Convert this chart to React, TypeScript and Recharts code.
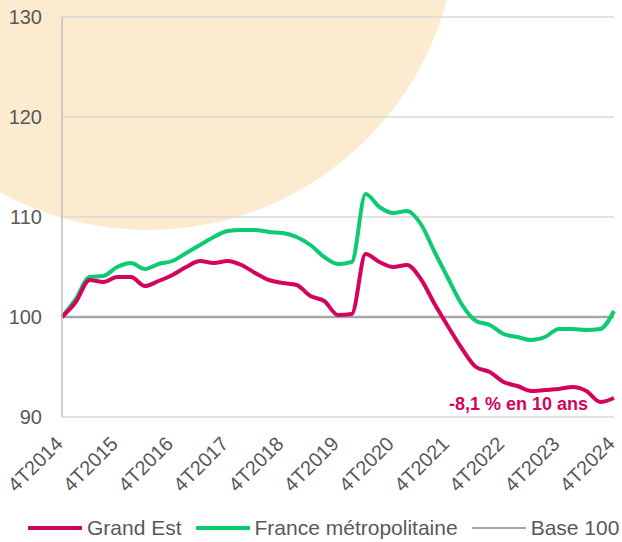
import { LineChart, Line, XAxis, YAxis, CartesianGrid, Legend, ReferenceDot } from 'recharts';

const COLORS = {
  grandEst: '#D2045E',
  france: '#0DCB70',
  base: '#A6A6A6',
  grid: '#D9D9D9',
  axis: '#BFBFBF',
  text: '#595959',
  circle: '#FDEBD0',
};

const FONT = '"Liberation Sans", Arial, sans-serif';

// trimestres 4T2014 -> 4T2024
const quarters: string[] = ['4T2014'];
for (let y = 2015; y <= 2024; y++) {
  for (let q = 1; q <= 4; q++) quarters.push(`${q}T${y}`);
}

const yearTicks = ['4T2014', '4T2015', '4T2016', '4T2017', '4T2018', '4T2019', '4T2020', '4T2021', '4T2022', '4T2023', '4T2024'];
const yTicks = [90, 100, 110, 120, 130];

const grandEst = [
  100.0, 101.5, 103.7, 103.5, 104.0, 104.0, 103.1, 103.6, 104.2, 105.0,
  105.6, 105.4, 105.6, 105.2, 104.4, 103.7, 103.4, 103.2, 102.1, 101.6,
  100.2, 100.3, 106.3, 105.5, 105.0, 105.2, 103.8, 101.3, 99.0, 96.8,
  95.0, 94.5, 93.5, 93.1, 92.6, 92.7, 92.8, 93.0, 92.6, 91.5,
  91.9,
];

const franceMetro = [
  100.0, 101.8, 104.0, 104.1, 105.0, 105.4, 104.8, 105.3, 105.6, 106.4,
  107.2, 108.0, 108.6, 108.7, 108.7, 108.5, 108.4, 108.0, 107.2, 106.0,
  105.3, 105.5, 112.3, 111.0, 110.4, 110.6, 109.3, 106.5, 103.8, 101.2,
  99.6, 99.2, 98.3, 98.0, 97.7, 98.0, 98.8, 98.8, 98.7, 98.8,
  100.6,
];

const data = quarters.map((q, i) => ({
  q,
  grandEst: grandEst[i],
  france: franceMetro[i],
  base: 100,
}));

const legendItems = [
  { name: 'Grand Est', color: COLORS.grandEst, width: 4 },
  { name: 'France métropolitaine', color: COLORS.france, width: 4 },
  { name: 'Base 100', color: COLORS.base, width: 2.5 },
];

function renderLegend() {
  return (
    <div style={{ display: 'flex', alignItems: 'center', height: 36, fontFamily: FONT, fontSize: 21, color: COLORS.text, whiteSpace: 'nowrap' }}>
      {legendItems.map((item) => (
        <div key={item.name} style={{ display: 'flex', alignItems: 'center', marginRight: 14 }}>
          <span style={{ display: 'inline-block', width: 54, height: item.width, background: item.color, marginRight: 5 }} />
          <span>{item.name}</span>
        </div>
      ))}
    </div>
  );
}

// libellés trimestriels inclinés à 45°
function QuarterTick(props: any) {
  const { x, y, payload } = props;
  const tx = x + 2;
  const ty = y + 28;
  return (
    <text
      x={tx}
      y={ty}
      transform={`rotate(-45, ${tx}, ${ty})`}
      textAnchor="end"
      fontSize={20}
      fill={COLORS.text}
      fontFamily={FONT}
    >
      {payload.value}
    </text>
  );
}

export default function App() {
  return (
    <div style={{ position: 'absolute', left: 0, top: 0, width: 622, height: 542, overflow: 'hidden', background: '#fff' }}>
      <div
        style={{
          position: 'absolute',
          left: 148 - 309,
          top: -79 - 309,
          width: 618,
          height: 618,
          borderRadius: '50%',
          background: COLORS.circle,
        }}
      />
      <LineChart
        width={622}
        height={542}
        data={data}
        margin={{ top: 17, right: 8, left: 0, bottom: 0 }}
        style={{ position: 'absolute', left: 0, top: 0 }}
      >
        <CartesianGrid vertical={false} stroke={COLORS.grid} strokeWidth={1.5} />
        <XAxis
          dataKey="q"
          ticks={yearTicks}
          interval={0}
          height={89}
          axisLine={false}
          tickLine={false}
          tickSize={0}
          tickMargin={0}
          tick={<QuarterTick />}
        />
        <YAxis
          domain={[90, 130]}
          ticks={yTicks}
          width={62}
          axisLine={{ stroke: COLORS.axis, strokeWidth: 1.5 }}
          tickLine={false}
          tickSize={0}
          tickMargin={20}
          tick={{ fontSize: 20, fill: COLORS.text, fontFamily: FONT }}
        />
        <Legend verticalAlign="bottom" align="left" content={renderLegend} wrapperStyle={{ left: 28, bottom: -4, height: 36 }} />
        <Line dataKey="base" name="Base 100" stroke={COLORS.base} strokeWidth={2.5} dot={false} isAnimationActive={false} />
        <Line type="monotone" dataKey="france" name="France métropolitaine" stroke={COLORS.france} strokeWidth={4} dot={false} isAnimationActive={false} />
        <Line type="monotone" dataKey="grandEst" name="Grand Est" stroke={COLORS.grandEst} strokeWidth={4} dot={false} isAnimationActive={false} />
        <ReferenceDot
          x="4T2024"
          y={91.3}
          r={0}
          fill="none"
          stroke="none"
          ifOverflow="visible"
          label={{ value: '-8,1 % en 10 ans', position: 'left', offset: 26, fill: COLORS.grandEst, fontSize: 18, fontWeight: 'bold', fontFamily: FONT }}
        />
      </LineChart>
    </div>
  );
}
